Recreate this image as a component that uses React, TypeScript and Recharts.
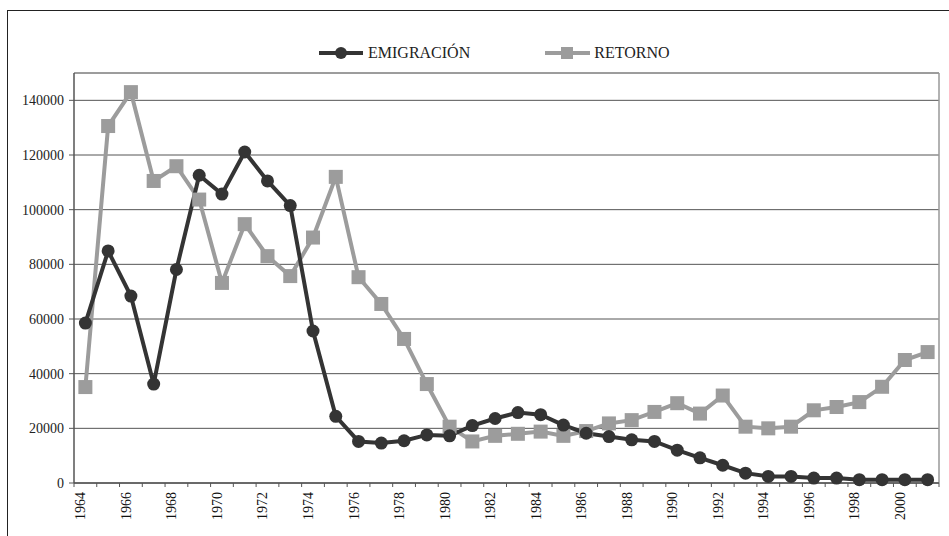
import React from 'react';
import { LineChart, Line, XAxis, YAxis, CartesianGrid, Legend } from 'recharts';

const years = [
  '1964', '1965', '1966', '1967', '1968', '1969', '1970', '1971', '1972', '1973',
  '1974', '1975', '1976', '1977', '1978', '1979', '1980', '1981', '1982', '1983',
  '1984', '1985', '1986', '1987', '1988', '1989', '1990', '1991', '1992', '1993',
  '1994', '1995', '1996', '1997', '1998', '1999', '2000', '2001',
];

const emigracion = [
  58500, 84900, 68400, 36200, 78100, 112600, 105700, 121100, 110500, 101500,
  55600, 24400, 15200, 14600, 15450, 17600, 17250, 21000, 23600, 25750,
  25000, 21200, 18200, 17000, 15800, 15200, 12000, 9200, 6500, 3600,
  2400, 2400, 1800, 1800, 1200, 1200, 1200, 1200,
];

const retorno = [
  35100, 130600, 143000, 110500, 115900, 103700, 73200, 94700, 83000, 75700,
  89800, 112000, 75300, 65500, 52700, 36200, 20600, 15200, 17250, 18000,
  18800, 17250, 19000, 21800, 23000, 26000, 29200, 25400, 32000, 20600,
  20000, 20600, 26600, 27800, 29600, 35200, 45000, 47900,
];

const yTicks = [0, 20000, 40000, 60000, 80000, 100000, 120000, 140000];
const yMax = 150000;

const seriesNames = ['EMIGRACIÓN', 'RETORNO'];

const data = years.map((y, i) => ({ year: y, emigracion: emigracion[i], retorno: retorno[i] }));

const W = 949;
const H = 536;
const LEFT = 74;
const RIGHT = 10;
const TOP = 73;
const BOTTOM = 53;
const PLOT_W = W - LEFT - RIGHT;
const STEP = PLOT_W / years.length;

const FONT = "'Liberation Serif', 'Times New Roman', Times, Tinos, 'Noto Serif', 'DejaVu Serif', FreeSerif, serif";
const DARK = '#343434';
const GREY = '#9c9c9c';

const XTick = (props: any) => {
  const { x, y, payload, index } = props;
  const bx = x - STEP / 2;
  const showLabel = index % 2 === 0;
  const isLast = index === years.length - 1;
  return (
    <g>
      <line x1={bx} y1={y} x2={bx} y2={y + 4} stroke="#555" strokeWidth={1} />
      {isLast && <line x1={x + STEP / 2} y1={y} x2={x + STEP / 2} y2={y + 4} stroke="#555" strokeWidth={1} />}
      {showLabel && (
        <text
          x={x}
          y={y + 9}
          transform={`rotate(-90, ${x}, ${y + 9})`}
          textAnchor="end"
          dy={0}
          style={{ fontFamily: FONT }}
          fontSize={14}
          fill="#111"
        >
          {payload.value}
        </text>
      )}
    </g>
  );
};

const SquareDot = (props: any) => {
  const { cx, cy, index } = props;
  if (cx == null || cy == null) return null;
  return <rect key={`sq-${index}`} x={cx - 7} y={cy - 7} width={14} height={14} fill={GREY} />;
};

const LegendContent = () => (
  <div style={{ display: 'flex', alignItems: 'center', height: 24, paddingLeft: 319, fontFamily: FONT, fontSize: 16, color: '#222' }}>
    <svg width={44} height={24} style={{ display: 'block' }}>
      <line x1={0} y1={12} x2={44} y2={12} stroke={DARK} strokeWidth={4} />
      <circle cx={22} cy={12} r={6} fill={DARK} />
    </svg>
    <span style={{ marginLeft: 5 }}>{seriesNames[0]}</span>
    <svg width={45} height={24} style={{ display: 'block', marginLeft: 75 }}>
      <line x1={0} y1={12} x2={45} y2={12} stroke={GREY} strokeWidth={4} />
      <rect x={16} y={6} width={12} height={12} fill={GREY} />
    </svg>
    <span style={{ marginLeft: 4 }}>{seriesNames[1]}</span>
  </div>
);

export default function App() {
  return (
    <div style={{ position: 'absolute', left: 0, top: 0, width: W, height: H, overflow: 'hidden', background: '#fff', fontFamily: FONT }}>
      <div style={{ position: 'absolute', left: 7, top: 10, width: W + 20, height: H + 20, border: '1.5px solid #222', boxSizing: 'border-box' }} />
      <div style={{ position: 'absolute', left: 0, top: 0 }}>
        <LineChart width={W} height={H} data={data} margin={{ top: TOP, right: RIGHT, bottom: 0, left: 0 }} style={{ fontFamily: FONT }}>
          <CartesianGrid vertical={false} stroke="#555" strokeWidth={1} />
          <CartesianGrid
            stroke="#999"
            strokeWidth={1.5}
            horizontalCoordinatesGenerator={({ offset }: any) => [offset.top]}
            verticalCoordinatesGenerator={({ offset }: any) => [offset.left + offset.width]}
          />
          <XAxis
            dataKey="year"
            interval={0}
            padding={{ left: STEP / 2, right: STEP / 2 }}
            height={BOTTOM}
            tickLine={false}
            tickSize={0}
            tickMargin={0}
            axisLine={{ stroke: '#555', strokeWidth: 1.5 }}
            tick={<XTick />}
          />
          <YAxis
            width={LEFT}
            domain={[0, yMax]}
            ticks={yTicks}
            interval={0}
            tickSize={5}
            tickMargin={5}
            axisLine={{ stroke: '#555', strokeWidth: 1.5 }}
            tickLine={{ stroke: '#555' }}
            tick={{ fontSize: 14, fill: '#222', style: { fontFamily: FONT } }}
          />
          <Legend
            layout="horizontal"
            verticalAlign="middle"
            align="center"
            wrapperStyle={{ top: 41, left: 0, width: W, height: 24 }}
            content={<LegendContent />}
          />
          <Line
            type="linear"
            dataKey="retorno"
            name={seriesNames[1]}
            stroke={GREY}
            strokeWidth={4}
            dot={<SquareDot />}
            activeDot={false}
            isAnimationActive={false}
          />
          <Line
            type="linear"
            dataKey="emigracion"
            name={seriesNames[0]}
            stroke={DARK}
            strokeWidth={4}
            dot={{ r: 6.5, fill: DARK, stroke: 'none' }}
            activeDot={false}
            isAnimationActive={false}
          />
        </LineChart>
      </div>
    </div>
  );
}
